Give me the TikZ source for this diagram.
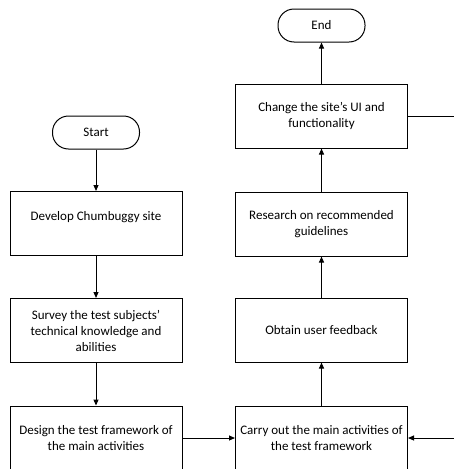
\documentclass[tikz,border=0pt]{standalone}
\usepackage{fontspec}
\setmainfont{Carlito}
\usetikzlibrary{arrows.meta}
\tikzset{
	box/.style={draw, line width=1pt, minimum width=172pt, minimum height=64pt, align=center, inner sep=2pt, font=\fontsize{13}{16}\selectfont},
	terminal/.style={draw, line width=1pt, rounded corners=16pt, minimum width=87pt, minimum height=33pt, font=\fontsize{13}{16}\selectfont},
	flow/.style={line width=1pt, -{Triangle[length=6pt,width=5pt]}},
	link/.style={line width=1pt}
}

\begin{document}
\begin{tikzpicture}[x=1pt,y=-1pt]
				\useasboundingbox (0,0) rectangle (453,469);
				
				% left column
				\node[terminal] (start) at (96,132.5) {Start};
				\node[box] (develop) at (96,223.5) {Develop Chumbuggy site\\\mbox{}};
				\node[box] (survey) at (96,330.5) {Survey the test subjects’\\technical knowledge and\\abilities};
				\node[box] (design) at (96,438) {Design the test framework of\\the main activities};
				
				% right column
				\node[terminal] (finish) at (321.5,25.5) {End};
				\node[box] (change) at (321.5,116) {Change the site’s UI and\\functionality};
				\node[box] (research) at (321.5,224) {Research on recommended\\guidelines};
				\node[box] (obtain) at (321.5,330) {Obtain user feedback};
				\node[box] (carry) at (321.5,438) {Carry out the main activities of\\the test framework};
				
				% loop ends beyond the right edge
				\coordinate (loopout) at (460,116);
				\coordinate (loopin) at (460,438);
				
				\draw[flow] (start) -- (develop);
				\draw[flow] (develop) -- (survey);
				\draw[flow] (survey) -- (design);
				\draw[flow] (design) -- (carry);
				\draw[flow] (carry) -- (obtain);
				\draw[flow] (obtain) -- (research);
				\draw[flow] (research) -- (change);
				\draw[flow] (change) -- (finish);
				\draw[link] (change) -- (loopout);
				\draw[flow] (loopin) -- (carry);
			\end{tikzpicture}
\end{document}
